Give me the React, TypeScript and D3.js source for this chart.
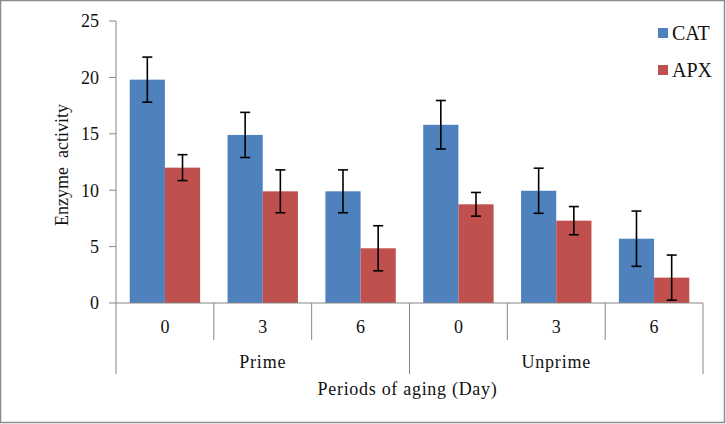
import { useEffect, useRef } from 'react';
import * as d3 from 'd3';

const groups = ['Prime', 'Unprime'];
const days = ['0', '3', '6'];
const series = ['CAT', 'APX'];
const catValues = [19.8, 14.9, 9.9, 15.8, 9.95, 5.7];
const catErrors = [2.0, 2.0, 1.9, 2.15, 2.0, 2.45];
const apxValues = [12.0, 9.9, 4.85, 8.75, 7.3, 2.25];
const apxErrors = [1.15, 1.9, 2.0, 1.05, 1.25, 2.0];
const yTicks = [0, 5, 10, 15, 20, 25];

const COLORS = ['#4F81BD', '#C0504D'];
const AXIS = '#868686';
const FONT = "'Liberation Serif', 'DejaVu Serif', serif";

const W = 726;
const H = 424;
const MARGIN = { top: 21, right: 23, bottom: 121, left: 116 };

export default function App() {
  const svgRef = useRef<SVGSVGElement>(null);

  useEffect(() => {
    if (!svgRef.current) return;
    const svg = d3.select(svgRef.current);
    svg.selectAll('*').remove();

    const innerW = W - MARGIN.left - MARGIN.right;
    const innerH = H - MARGIN.top - MARGIN.bottom;

    // outer border
    svg.append('rect')
      .attr('x', 0.5).attr('y', 0.5)
      .attr('width', W - 2).attr('height', H - 2)
      .attr('fill', '#fff').attr('stroke', '#8c8c8c').attr('stroke-width', 1.5);

    const g = svg.append('g').attr('transform', `translate(${MARGIN.left},${MARGIN.top})`);

    const cats = groups.flatMap(gr => days.map(d => `${gr}-${d}`));
    const x = d3.scaleBand<string>().domain(cats).range([0, innerW]).paddingInner(0).paddingOuter(0);
    const x1 = d3.scaleBand<string>().domain(series).range([0, x.bandwidth()]).paddingInner(0).paddingOuter(0.39);
    const y = d3.scaleLinear().domain([0, 25]).range([innerH, 0]);

    const data = [
      { values: catValues, errors: catErrors },
      { values: apxValues, errors: apxErrors },
    ];

    const label = (sel: d3.Selection<SVGTextElement, unknown, null, undefined>, size = 17, spacing = 0) =>
      sel.style('font-family', FONT).attr('font-size', size).attr('fill', '#111')
        .attr('letter-spacing', spacing);

    // bars
    data.forEach((s, si) => {
      s.values.forEach((v, i) => {
        const bx = x(cats[i])! + x1(series[si])!;
        g.append('rect')
          .attr('x', bx).attr('y', y(v))
          .attr('width', x1.bandwidth()).attr('height', innerH - y(v))
          .attr('fill', COLORS[si]);
      });
    });

    // error bars
    data.forEach((s, si) => {
      s.values.forEach((v, i) => {
        const cx = x(cats[i])! + x1(series[si])! + x1.bandwidth() / 2;
        const e = s.errors[i];
        const eb = g.append('g').attr('stroke', '#000').attr('stroke-width', 1.6);
        eb.append('line').attr('x1', cx).attr('x2', cx).attr('y1', y(v + e)).attr('y2', y(v - e));
        [v + e, v - e].forEach(t => {
          eb.append('line').attr('x1', cx - 5).attr('x2', cx + 5).attr('y1', y(t)).attr('y2', y(t));
        });
      });
    });

    // y axis
    g.append('line').attr('x1', 0).attr('x2', 0).attr('y1', 0).attr('y2', innerH)
      .attr('stroke', AXIS).attr('stroke-width', 1);
    yTicks.forEach(t => {
      g.append('line').attr('x1', -7).attr('x2', 0).attr('y1', y(t)).attr('y2', y(t))
        .attr('stroke', AXIS);
      label(g.append('text')
        .attr('x', -17).attr('y', y(t)).attr('dy', '0.35em')
        .attr('text-anchor', 'end'), 18).text(t);
    });

    // x axis
    g.append('line').attr('x1', 0).attr('x2', innerW).attr('y1', innerH).attr('y2', innerH)
      .attr('stroke', AXIS);
    cats.forEach((c, i) => {
      const bx = x(c)!;
      const isGroupEdge = i % days.length === 0;
      if (i > 0) {
        g.append('line').attr('x1', bx).attr('x2', bx)
          .attr('y1', innerH).attr('y2', innerH + (isGroupEdge ? 71 : 37))
          .attr('stroke', AXIS);
      }
      label(g.append('text')
        .attr('x', bx + x.bandwidth() / 2).attr('y', innerH + 24).attr('dy', '0.35em')
        .attr('text-anchor', 'middle'), 18).text(days[i % days.length]);
    });
    [0, innerW].forEach(px => {
      g.append('line').attr('x1', px).attr('x2', px)
        .attr('y1', innerH).attr('y2', innerH + 71).attr('stroke', AXIS);
    });
    groups.forEach(gr => {
      const gx = x(`${gr}-${days[0]}`)!;
      label(g.append('text')
        .attr('x', gx + (x.bandwidth() * days.length) / 2).attr('y', innerH + 59).attr('dy', '0.35em')
        .attr('text-anchor', 'middle'), 18, 0.8).text(gr);
    });

    // axis titles
    label(g.append('text')
      .attr('x', innerW / 2 - 2).attr('y', innerH + 86).attr('dy', '0.35em')
      .attr('text-anchor', 'middle'), 18, 0.7).text('Periods of aging (Day)');
    label(svg.append('text')
      .attr('transform', `translate(62,${165}) rotate(-90)`)
      .attr('dy', '0.35em')
      .attr('text-anchor', 'middle')
      .attr('xml:space', 'preserve'), 18).text('Enzyme  activity');

    // legend
    series.forEach((s, si) => {
      const ly = 33 + si * 37;
      svg.append('rect').attr('x', 658).attr('y', ly - 5).attr('width', 10).attr('height', 10)
        .attr('fill', COLORS[si]);
      label(svg.append('text').attr('x', 672).attr('y', ly).attr('dy', '0.35em'), 20).text(s);
    });
  }, []);

  return (
    <div style={{ position: 'absolute', left: 0, top: 0 }}>
      <svg ref={svgRef} width={W} height={H} style={{ display: 'block' }} />
    </div>
  );
}
